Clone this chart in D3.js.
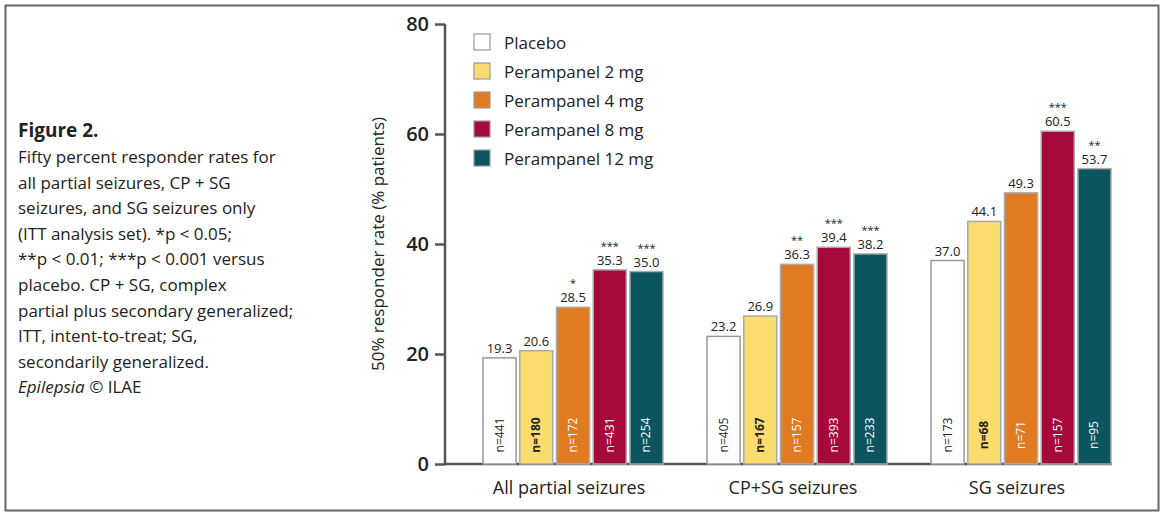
<!DOCTYPE html>
<html><head><meta charset="utf-8">
<script src="https://d3js.org/d3.v7.min.js"></script>
<style>body{margin:0;background:#fff}text{font-family:"Open Sans",sans-serif;fill:#222}</style>
</head><body><svg id="c" width="1164" height="516"></svg>
<script>
var groups = ["All partial seizures", "CP+SG seizures", "SG seizures"];
var series = ["Placebo", "Perampanel 2 mg", "Perampanel 4 mg", "Perampanel 8 mg", "Perampanel 12 mg"];
var colors = ["#ffffff", "#fcdc6e", "#e07b22", "#a6093a", "#0b5560"];
var values = [[19.3, 20.6, 28.5, 35.3, 35.0], [23.2, 26.9, 36.3, 39.4, 38.2], [37.0, 44.1, 49.3, 60.5, 53.7]];
var stars = [["", "", "*", "***", "***"], ["", "", "**", "***", "***"], ["", "", "", "***", "**"]];
var ns = [[441, 180, 172, 431, 254], [405, 167, 157, 393, 233], [173, 68, 71, 157, 95]];
var yTicks = [0, 20, 40, 60, 80];
var caption = ["Fifty percent responder rates for", "all partial seizures, CP + SG", "seizures, and SG seizures only",
  "(ITT analysis set). *p < 0.05;", "**p < 0.01; ***p < 0.001 versus", "placebo. CP + SG, complex",
  "partial plus secondary generalized;", "ITT, intent-to-treat; SG,", "secondarily generalized."];

var svg = d3.select("#c");
svg.append("rect").attr("x", 5.5).attr("y", 5.5).attr("width", 1153).attr("height", 505).attr("fill", "none").attr("stroke", "#666").attr("stroke-width", 2);

// caption
svg.append("text").attr("x", 18).attr("y", 137).style("font-size", "19px").style("font-weight", "bold").text("Figure 2.");
caption.forEach(function(t, i) {
  svg.append("text").attr("x", 18).attr("y", 163 + i * 25.6).style("font-size", "17px").text(t);
});
var ep = svg.append("text").attr("x", 18).attr("y", 163 + 9 * 25.6).style("font-size", "17px");
ep.append("tspan").style("font-style", "italic").text("Epilepsia ");
ep.append("tspan").text("© ILAE");

var y = d3.scaleLinear().domain([0, 80]).range([464, 24]);
var x0 = d3.scaleBand().domain(groups).range([461, 1133]).padding(0);
var x1 = d3.scaleBand().domain(series).range([0, 180]).paddingInner(0.1);

var ax = svg.append("g").attr("transform", "translate(445,0)")
  .call(d3.axisLeft(y).tickValues(yTicks).tickSize(10).tickPadding(6));
ax.select(".domain").attr("stroke", "#555").attr("stroke-width", 2.5).attr("d", "M0,24V464");
ax.selectAll("line").attr("stroke", "#555").attr("stroke-width", 2.5);
ax.selectAll("text").style("font-size", "20px").style("font-weight", "600").attr("fill", "#333");

svg.append("line").attr("x1", 445).attr("x2", 1112).attr("y1", 464).attr("y2", 464).attr("stroke", "#555").attr("stroke-width", 2.5);

svg.append("text").attr("transform", "translate(384,244) rotate(-90)").attr("text-anchor", "middle")
  .style("font-size", "17px").text("50% responder rate (% patients)");

groups.forEach(function(g, gi) {
  var gx = x0(g) + (x0.bandwidth() - 180) / 2;
  var gg = svg.append("g").attr("transform", "translate(" + gx + ",0)");
  series.forEach(function(s, si) {
    var v = values[gi][si], bx = x1(s), bw = x1.bandwidth();
    gg.append("rect").attr("x", bx).attr("y", y(v)).attr("width", bw).attr("height", y(0) - y(v))
      .attr("fill", colors[si]).attr("stroke", si === 0 ? "#999" : "#aaa").attr("stroke-width", 1.5);
    gg.append("text").attr("x", bx + bw / 2).attr("y", y(v) - 5).attr("text-anchor", "middle")
      .style("font-size", "13px").text(v.toFixed(1));
    if (stars[gi][si]) gg.append("text").attr("x", bx + bw / 2).attr("y", y(v) - 20).attr("text-anchor", "middle")
      .style("font-size", "11px").text(stars[gi][si]);
    gg.append("text").attr("transform", "translate(" + (bx + bw / 2 + 4) + ",435) rotate(-90)").attr("text-anchor", "middle")
      .style("font-size", "12px").style("font-weight", si === 1 ? "bold" : "normal")
      .style("fill", si >= 2 ? "#fff" : "#222").text("n=" + ns[gi][si]);
  });
  svg.append("text").attr("x", x0(g) + x0.bandwidth() / 2 - 4).attr("y", 494).attr("text-anchor", "middle")
    .style("font-size", "18px").text(g);
});

var leg = svg.append("g");
series.forEach(function(s, i) {
  leg.append("rect").attr("x", 474).attr("y", 34 + i * 29).attr("width", 16).attr("height", 16)
    .attr("fill", colors[i]).attr("stroke", "#999").attr("stroke-width", 1.2);
  leg.append("text").attr("x", 504).attr("y", 49 + i * 29).style("font-size", "17px").text(s);
});
</script></body></html>
